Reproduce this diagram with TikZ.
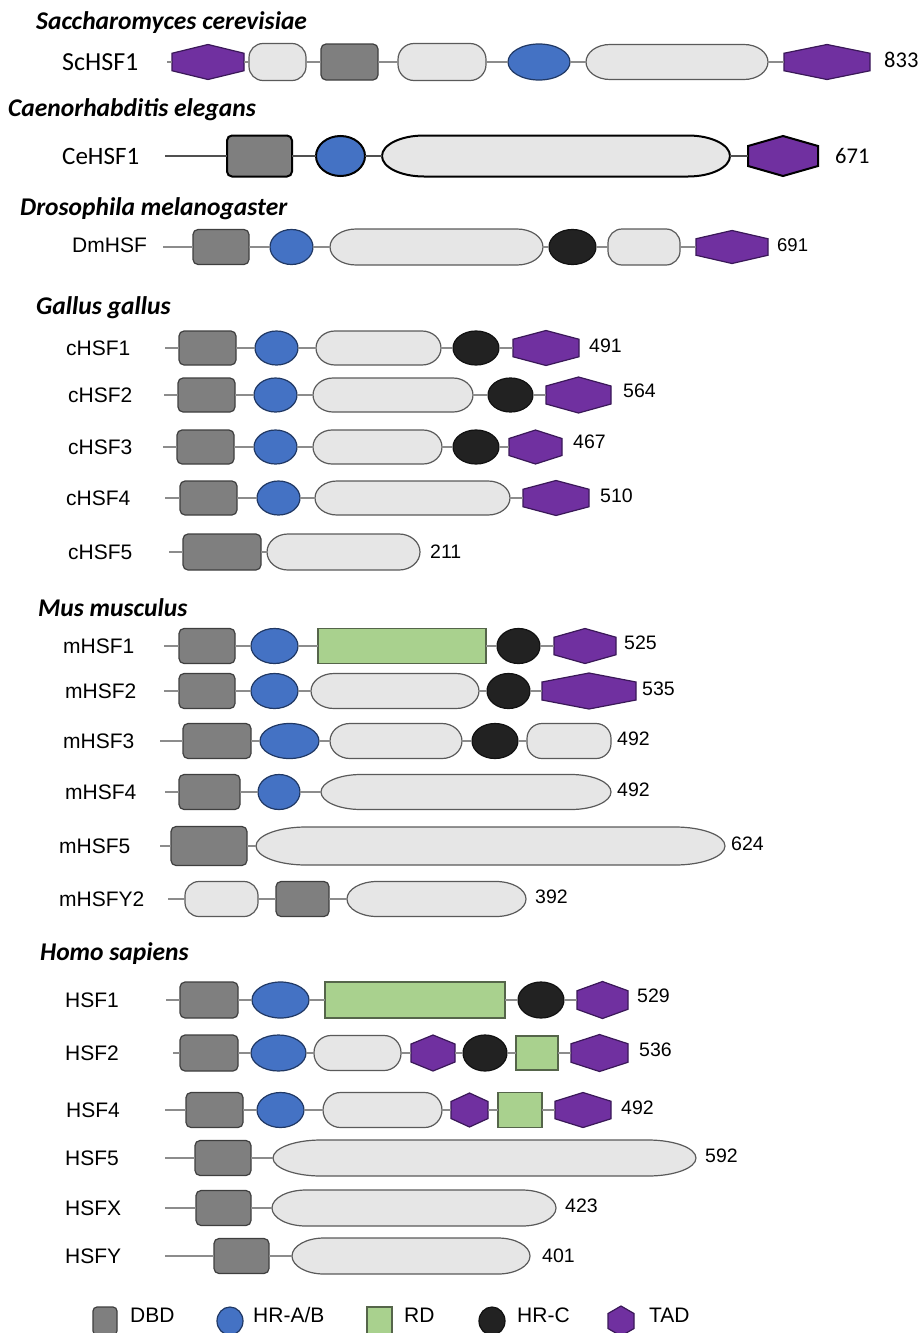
\documentclass[tikz,border=0pt]{standalone}
\usepackage{fontspec}
\setmainfont{Liberation Sans}
\newfontfamily\calfont{Carlito}
\usetikzlibrary{shapes.geometric,calc}
\definecolor{lineg}{HTML}{8C8C8C}
\definecolor{celine}{HTML}{505050}
\definecolor{dbdfill}{HTML}{7F7F7F}
\definecolor{dbddraw}{HTML}{3F3F3F}
\definecolor{ltfill}{HTML}{E6E6E6}
\definecolor{ltdraw}{HTML}{5A5A5A}
\definecolor{bluefill}{HTML}{4472C4}
\definecolor{bluedraw}{HTML}{203864}
\definecolor{blkfill}{HTML}{222222}
\definecolor{blkdraw}{HTML}{111111}
\definecolor{grfill}{HTML}{A9D18E}
\definecolor{grdraw}{HTML}{55654A}
\definecolor{purfill}{HTML}{7030A0}
\definecolor{purdraw}{HTML}{3A1858}
\tikzset{
  dombase/.style={inner sep=0pt, outer sep=0pt, line width=1.2pt},
  dbd/.style={dombase, rectangle, rounded corners=5pt, fill=dbdfill, draw=dbddraw},
  lt/.style={dombase, rectangle, fill=ltfill, draw=ltdraw},
  ltshape/.style={fill=ltfill, draw=ltdraw, line width=1.2pt},
  hra/.style={dombase, ellipse, fill=bluefill, draw=bluedraw},
  hrc/.style={dombase, ellipse, fill=blkfill, draw=blkdraw},
  rd/.style={dombase, rectangle, fill=grfill, draw=grdraw},
  tadbox/.style={rectangle, draw=none, fill=none, inner sep=0pt, outer sep=0pt},
  tad/.style={fill=purfill, draw=purdraw, line width=1.2pt, line join=miter},
  ceb/.style={draw=black, line width=2pt},
  conn/.style={draw=lineg, line width=2pt},
  ceconn/.style={draw=celine, line width=2.6pt},
  title/.style={anchor=base west, inner sep=0pt, font=\calfont\bfseries\itshape\fontsize{25.5}{29}\selectfont},
  lab/.style={anchor=west, inner sep=0pt, font=\fontsize{21}{24}\selectfont},
  num/.style={anchor=west, inner sep=0pt, font=\fontsize{19.5}{22}\selectfont},
  calab/.style={anchor=west, inner sep=0pt, font=\calfont\fontsize{26}{30}\selectfont},
  canum/.style={anchor=west, inner sep=0pt, font=\calfont\fontsize{22.5}{26}\selectfont},
}
% #1 style, #2 name, #3 left x, #4 right x, #5 centre y, #6 height
\newcommand\dom[6]{\node[#1, minimum width={#4-#3}, minimum height={#6}] (#2) at ({(#3+#4)/2},#5) {};}
% hexagon (TAD): #1 extra style
\newcommand\hexdom[6]{%
  \node[tadbox, minimum width={#4-#3}, minimum height={#6}] (#2) at ({(#3+#4)/2},#5) {};
  \draw[tad,#1] (#2.north) -- ($(#2.north east)!0.25!(#2.south east)$) -- ($(#2.north east)!0.75!(#2.south east)$)
     -- (#2.south) -- ($(#2.north west)!0.75!(#2.south west)$) -- ($(#2.north west)!0.25!(#2.south west)$) -- cycle;}
% long domain with elliptical ends: #7 horizontal radius of the ends
\newcommand\pill[7]{%
  \node[tadbox, minimum width={#4-#3}, minimum height={#6}] (#2) at ({(#3+#4)/2},#5) {};
  \draw[ltshape,#1] ($(#2.north west)+(#7,0)$) -- ($(#2.north east)-(#7,0)$)
     arc[start angle=90, end angle=-90, x radius={#7*1pt}, y radius={#6/2*1pt}]
     -- ($(#2.south west)+(#7,0)$)
     arc[start angle=270, end angle=90, x radius={#7*1pt}, y radius={#6/2*1pt}] -- cycle;}
\begin{document}
\begin{tikzpicture}[x=1pt,y=-1pt]
\useasboundingbox (0,0) rectangle (921,1333);

% ---------- Saccharomyces ----------
\node[title] (tsc) at (36,29) {Saccharomyces cerevisiae};
\node[calab] (lsc) at (62,62) {ScHSF1};
\coordinate (sc0) at (167,62);
\hexdom{}{sc1}{172}{244}{62}{35}
\dom{lt, rounded corners=14pt}{sc2}{249}{306}{62}{37}
\dom{dbd}{sc3}{321}{378}{62}{36}
\dom{lt, rounded corners=16pt}{sc4}{398}{486}{62}{37}
\dom{hra}{sc5}{508}{570}{62}{36}
\pill{}{sc6}{586}{768}{62}{35}{24}
\hexdom{}{sc7}{784}{870}{62}{35}
\draw[conn] (sc0) -- (sc1) -- (sc2) -- (sc3) -- (sc4) -- (sc5) -- (sc6) -- (sc7);
\node[canum] (nsc) at (884,60) {833};

% ---------- Caenorhabditis ----------
\node[title] (tce) at (8,116) {Caenorhabditis elegans};
\node[calab, font=\calfont\fontsize{25}{29}\selectfont] (lce) at (62,156) {CeHSF1};
\coordinate (ce0) at (165,156);
\dom{dbd, ceb}{ce1}{227}{292}{156}{41}
\dom{hra, ceb}{ce2}{316}{365}{156}{40}
\pill{ceb}{ce3}{382}{730}{156}{41}{42}
\hexdom{ceb}{ce4}{748}{818}{156}{40}
\draw[ceconn] (ce0) -- (ce1) -- (ce2) -- (ce3) -- (ce4);
\node[canum] (nce) at (835,156) {671};

% ---------- Drosophila ----------
\node[title] (tdm) at (20,215) {Drosophila melanogaster};
\node[lab] (ldm) at (72,245) {DmHSF};
\coordinate (dm0) at (163,247);
\dom{dbd}{dm1}{193}{249}{247}{35}
\dom{hra}{dm2}{270}{313}{247}{35}
\pill{}{dm3}{330}{543}{247}{36}{26}
\dom{hrc}{dm4}{549}{596}{247}{35}
\dom{lt, rounded corners=14pt}{dm5}{608}{680}{247}{36}
\hexdom{}{dm6}{696}{768}{247}{33}
\draw[conn] (dm0) -- (dm1) -- (dm2) -- (dm3) -- (dm4) -- (dm5) -- (dm6);
\node[num, font=\fontsize{18.5}{22}\selectfont] (ndm) at (777,245) {691};

% ---------- Gallus ----------
\node[title] (tgg) at (36,314) {Gallus gallus};
\node[lab] (lc1) at (66,348) {cHSF1};
\coordinate (c10) at (165,348);
\dom{dbd}{c11}{179}{236}{348}{34}
\dom{hra}{c12}{255}{298}{348}{34}
\pill{}{c13}{316}{441}{348}{34}{19}
\dom{hrc}{c14}{453}{499}{348}{34}
\hexdom{}{c15}{513}{579}{348}{35}
\draw[conn] (c10) -- (c11) -- (c12) -- (c13) -- (c14) -- (c15);
\node[num] (nc1) at (589,346) {491};

\node[lab] (lc2) at (68,395) {cHSF2};
\coordinate (c20) at (164,395);
\dom{dbd}{c21}{178}{235}{395}{34}
\dom{hra}{c22}{254}{297}{395}{34}
\pill{}{c23}{313}{473}{395}{34}{20}
\dom{hrc}{c24}{488}{533}{395}{34}
\hexdom{}{c25}{546}{611}{395}{36}
\draw[conn] (c20) -- (c21) -- (c22) -- (c23) -- (c24) -- (c25);
\node[num] (nc2) at (623,391) {564};

\node[lab] (lc3) at (68,447) {cHSF3};
\coordinate (c30) at (163,447);
\dom{dbd}{c31}{177}{234}{447}{34}
\dom{hra}{c32}{254}{297}{447}{34}
\pill{}{c33}{313}{442}{447}{34}{19}
\dom{hrc}{c34}{453}{499}{447}{34}
\hexdom{}{c35}{509}{562}{447}{34}
\draw[conn] (c30) -- (c31) -- (c32) -- (c33) -- (c34) -- (c35);
\node[num] (nc3) at (573,442) {467};

\node[lab] (lc4) at (66,498) {cHSF4};
\coordinate (c40) at (165,498);
\dom{dbd}{c41}{180}{237}{498}{34}
\dom{hra}{c42}{257}{300}{498}{34}
\pill{}{c43}{315}{510}{498}{34}{22}
\hexdom{}{c44}{523}{589}{498}{35}
\draw[conn] (c40) -- (c41) -- (c42) -- (c43) -- (c44);
\node[num] (nc4) at (600,496) {510};

\node[lab] (lc5) at (68,552) {cHSF5};
\coordinate (c50) at (169,552);
\dom{dbd}{c51}{183}{261}{552}{36}
\pill{}{c52}{267}{420}{552}{36}{21}
\draw[conn] (c50) -- (c51) -- (c52);
\node[num] (nc5) at (430,552) {211};

% ---------- Mus ----------
\node[title] (tmm) at (38,616) {Mus musculus};
\node[lab] (lm1) at (63,646) {mHSF1};
\coordinate (m10) at (164,646);
\dom{dbd}{m11}{179}{235}{646}{35}
\dom{hra}{m12}{251}{298}{646}{35}
\dom{rd}{m13}{318}{486}{646}{35}
\dom{hrc}{m14}{497}{540}{646}{35}
\hexdom{}{m15}{554}{616}{646}{35}
\draw[conn] (m10) -- (m11) -- (m12) -- (m13) -- (m14) -- (m15);
\node[num] (nm1) at (624,643) {525};

\node[lab] (lm2) at (65,691) {mHSF2};
\coordinate (m20) at (164,691);
\dom{dbd}{m21}{179}{235}{691}{35}
\dom{hra}{m22}{251}{298}{691}{35}
\pill{}{m23}{311}{479}{691}{35}{23}
\dom{hrc}{m24}{487}{530}{691}{35}
\hexdom{}{m25}{542}{636}{691}{36}
\draw[conn] (m20) -- (m21) -- (m22) -- (m23) -- (m24) -- (m25);
\node[num] (nm2) at (642,689) {535};

\node[lab] (lm3) at (63,741) {mHSF3};
\coordinate (m30) at (160,741);
\dom{dbd}{m31}{183}{251}{741}{35}
\dom{hra}{m32}{260}{319}{741}{35}
\pill{}{m33}{330}{462}{741}{35}{20}
\dom{hrc}{m34}{472}{518}{741}{35}
\dom{lt, rounded corners=15pt}{m35}{527}{611}{741}{35}
\draw[conn] (m30) -- (m31) -- (m32) -- (m33) -- (m34) -- (m35);
\node[num] (nm3) at (617,739) {492};

\node[lab] (lm4) at (65,792) {mHSF4};
\coordinate (m40) at (165,792);
\dom{dbd}{m41}{179}{240}{792}{35}
\dom{hra}{m42}{258}{300}{792}{35}
\pill{}{m43}{321}{611}{792}{35}{40}
\draw[conn] (m40) -- (m41) -- (m42) -- (m43);
\node[num] (nm4) at (617,790) {492};

\node[lab] (lm5) at (59,846) {mHSF5};
\coordinate (m50) at (160,846);
\dom{dbd}{m51}{171}{247}{846}{39}
\pill{}{m52}{256}{725}{846}{38}{50}
\draw[conn] (m50) -- (m51) -- (m52);
\node[num] (nm5) at (731,844) {624};

\node[lab] (lm6) at (59,899) {mHSFY2};
\coordinate (m60) at (168,899);
\dom{lt, rounded corners=14pt}{m61}{185}{258}{899}{35}
\dom{dbd}{m62}{276}{329}{899}{35}
\pill{}{m63}{347}{526}{899}{35}{30}
\draw[conn] (m60) -- (m61) -- (m62) -- (m63);
\node[num] (nm6) at (535,897) {392};

% ---------- Homo ----------
\node[title] (ths) at (40,960) {Homo sapiens};
\node[lab] (lh1) at (65,1000) {HSF1};
\coordinate (h10) at (166,1000);
\dom{dbd}{h11}{180}{238}{1000}{36}
\dom{hra}{h12}{252}{309}{1000}{36}
\dom{rd}{h13}{325}{505}{1000}{36}
\dom{hrc}{h14}{518}{564}{1000}{36}
\hexdom{}{h15}{577}{628}{1000}{37}
\draw[conn] (h10) -- (h11) -- (h12) -- (h13) -- (h14) -- (h15);
\node[num] (nh1) at (637,996) {529};

\node[lab] (lh2) at (65,1053) {HSF2};
\coordinate (h20) at (173,1053);
\dom{dbd}{h21}{180}{238}{1053}{36}
\dom{hra}{h22}{251}{306}{1053}{36}
\dom{lt, rounded corners=17pt}{h23}{314}{401}{1053}{35}
\hexdom{}{h24}{411}{455}{1053}{36}
\dom{hrc}{h25}{463}{507}{1053}{36}
\dom{rd}{h26}{516}{558}{1053}{34}
\hexdom{}{h27}{571}{628}{1053}{37}
\draw[conn] (h20) -- (h21) -- (h22) -- (h23) -- (h24) -- (h25) -- (h26) -- (h27);
\node[num] (nh2) at (639,1050) {536};

\node[lab] (lh4) at (66,1110) {HSF4};
\coordinate (h40) at (165,1110);
\dom{dbd}{h41}{186}{243}{1110}{35}
\dom{hra}{h42}{257}{304}{1110}{35}
\dom{lt, rounded corners=17.5pt}{h43}{323}{442}{1110}{35}
\hexdom{}{h44}{451}{488}{1110}{34}
\dom{rd}{h45}{498}{542}{1110}{35}
\hexdom{}{h46}{555}{611}{1110}{35}
\draw[conn] (h40) -- (h41) -- (h42) -- (h43) -- (h44) -- (h45) -- (h46);
\node[num] (nh4) at (621,1108) {492};

\node[lab] (lh5) at (65,1158) {HSF5};
\coordinate (h50) at (165,1158);
\dom{dbd}{h51}{195}{251}{1158}{35}
\pill{}{h52}{273}{696}{1158}{36}{48}
\draw[conn] (h50) -- (h51) -- (h52);
\node[num] (nh5) at (705,1156) {592};

\node[lab] (lhx) at (65,1208) {HSFX};
\coordinate (hx0) at (165,1208);
\dom{dbd}{hx1}{196}{251}{1208}{35}
\pill{}{hx2}{272}{556}{1208}{36}{34}
\draw[conn] (hx0) -- (hx1) -- (hx2);
\node[num] (nhx) at (565,1206) {423};

\node[lab] (lhy) at (65,1256) {HSFY};
\coordinate (hy0) at (165,1256);
\dom{dbd}{hy1}{214}{269}{1256}{35}
\pill{}{hy2}{292}{530}{1256}{36}{32}
\draw[conn] (hy0) -- (hy1) -- (hy2);
\node[num] (nhy) at (542,1256) {401};

% ---------- Legend ----------
\dom{dbd, rounded corners=4pt}{lg1}{93}{117}{1321}{28}
\node[lab] (lgt1) at (130,1315) {DBD};
\dom{hra}{lg2}{217}{243}{1321}{28}
\node[lab] (lgt2) at (253,1315) {HR-A/B};
\dom{rd}{lg3}{367}{392}{1321}{28}
\node[lab] (lgt3) at (404,1315) {RD};
\dom{hrc}{lg4}{479}{505}{1321}{28}
\node[lab] (lgt4) at (517,1315) {HR-C};
\hexdom{}{lg5}{608}{634}{1321}{30}
\node[lab] (lgt5) at (649,1315) {TAD};
\end{tikzpicture}
\end{document}
